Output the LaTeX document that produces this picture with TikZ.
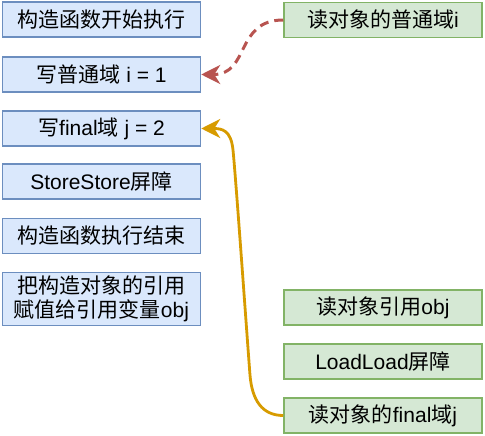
\documentclass[tikz,border=0pt]{standalone}
\usepackage{fontspec}
\setmainfont{Liberation Sans}
\newfontfamily\cjk{Noto Sans CJK SC}
\usetikzlibrary{arrows.meta}
\definecolor{bfill}{HTML}{DAE8FC}
\definecolor{bdraw}{HTML}{6C8EBF}
\definecolor{gfill}{HTML}{D5E8D4}
\definecolor{gdraw}{HTML}{82B366}
\definecolor{redarr}{HTML}{B85450}
\definecolor{orarr}{HTML}{D79B00}
\begin{document}
\begin{tikzpicture}[x=1pt,y=-1pt,
  basebox/.style={line width=1.5pt, minimum width=198pt, minimum height=35pt, inner sep=0pt,
    font=\fontsize{21}{24}\selectfont, align=center, text=black},
  lbox/.style={basebox, draw=bdraw, fill=bfill},
  rbox/.style={basebox, draw=gdraw, fill=gfill},
  tall/.style={minimum height=53pt},
  redcon/.style={draw=redarr, line width=3pt, dash pattern=on 9pt off 6pt,
    -{Stealth[length=19pt,width=19pt,inset=6pt,sep=0pt]}},
  orcon/.style={draw=orarr, line width=2.8pt,
    -{Stealth[length=19pt,width=19pt,inset=6pt,sep=0pt]}}]
\useasboundingbox (0,0) rectangle (485,436);
\node[lbox] (l1) at (101.5,19.5) {{\cjk 构造函数开始执行}};
\node[lbox] (l2) at (101.5,74.5) {{\cjk 写普通域} i = 1};
\node[lbox] (l3) at (101.5,128.5) {{\cjk 写}final{\cjk 域} j = 2};
\node[lbox] (l4) at (101.5,181.5) {StoreStore{\cjk 屏障}};
\node[lbox] (l5) at (101.5,236) {{\cjk 构造函数执行结束}};
\node[lbox,tall] (l6) at (101.5,299) {{\cjk 把构造对象的引用}\\{\cjk 赋值给引用变量}obj};
\node[rbox] (r1) at (383,20) {{\cjk 读对象的普通域}i};
\node[rbox] (r2) at (383,307.5) {{\cjk 读对象引用}obj};
\node[rbox] (r3) at (383,361.5) {LoadLoad{\cjk 屏障}};
\node[rbox] (r4) at (383,415.5) {{\cjk 读对象的}final{\cjk 域}j};
\draw[redcon] (r1.west) .. controls (235,20) and (250,74.5) .. (l2.east);
\draw[orcon] (r4.west) .. controls (262,415.5) and (252,400) .. (250,375)
  .. controls (248,350) and (236,180) .. (233,150)
  .. controls (231,130) and (222,128.5) .. (l3.east);
\end{tikzpicture}
\end{document}
